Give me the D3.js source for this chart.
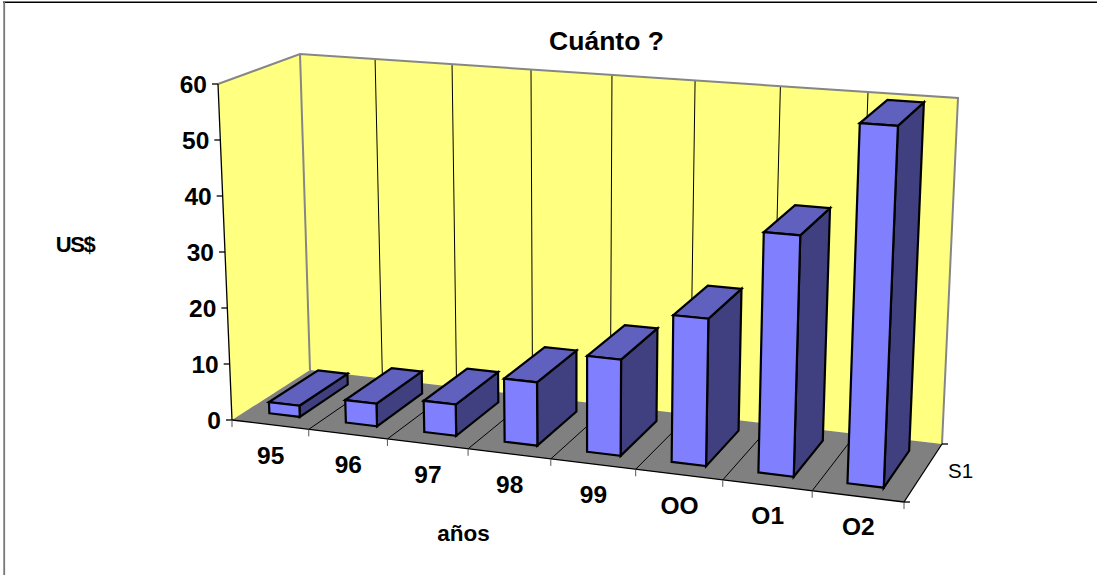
<!DOCTYPE html>
<html>
<head>
<meta charset="utf-8">
<script src="https://d3js.org/d3.v7.min.js"></script>
<style>
html,body{margin:0;padding:0;background:#fff;}
svg{display:block;}
text{font-family:"Liberation Sans",Arial,sans-serif;fill:#000;}
</style>
</head>
<body>
<svg id="chart" width="1097" height="575"></svg>
<script>
const categories = ["95","96","97","98","99","OO","O1","O2"];
const values = [2,4,5.5,11,16.5,25,40.5,60];
const valueTicks = [0,10,20,30,40,50,60];
const seriesName = "S1";

// Box corners on screen: floor quad and the quad at the top of the value range
const floorQuad=[[232,420],[904,502],[942,444],[310,370]];
const topQuad=[[218,84],[919.4,135],[958,98],[300,54]];

// Square-to-quad homography; quad order is (0,0),(1,0),(1,1),(0,1)
function quadMap([A,C,D,B]){
  const dx1=C[0]-D[0],dx2=B[0]-D[0],sx=A[0]-C[0]+D[0]-B[0];
  const dy1=C[1]-D[1],dy2=B[1]-D[1],sy=A[1]-C[1]+D[1]-B[1];
  const den=dx1*dy2-dx2*dy1;
  const g=(sx*dy2-dx2*sy)/den,h=(dx1*sy-sx*dy1)/den;
  const ax=C[0]-A[0]+g*C[0],bx=B[0]-A[0]+h*B[0];
  const ay=C[1]-A[1]+g*C[1],by=B[1]-A[1]+h*B[1];
  return (u,w)=>{
    const d=g*u+h*w+1;
    return [(ax*u+bx*w+A[0])/d,(ay*u+by*w+A[1])/d];
  };
}
const floorAt=quadMap(floorQuad), topAt=quadMap(topQuad);

// Categories foreshorten a little towards the far left of the box
const warp=(t,k)=>t/(1+k*(1-t));
const floorBend=0.049, topBend=0.002;

// Point in the box: t across the categories, v up the value range, w into depth
function project(t,v,w){
  const f=floorAt(warp(t,floorBend),w),p=topAt(warp(t,topBend),w);
  return [f[0]+(p[0]-f[0])*v,f[1]+(p[1]-f[1])*v];
}

const uScale=d3.scaleLinear().domain([0,categories.length]).range([0,1]);
const vScale=d3.scaleLinear().domain([0,60]).range([0,1]);
const barInset=0.3, depthFront=0.18, depthBack=0.82;

const svg=d3.select("#chart");
const poly=pts=>pts.map(p=>p.map(n=>n.toFixed(2)).join(",")).join(" ");

// Chart frame: only the top and left edges show
svg.append("line").attr("x1",3).attr("y1",2.2).attr("x2",1097).attr("y2",2.2)
  .attr("stroke","#000").attr("stroke-width",1.4);
svg.append("line").attr("x1",4.2).attr("y1",2).attr("x2",4.2).attr("y2",575)
  .attr("stroke","#777").attr("stroke-width",1.8);

// Walls and floor
svg.append("polygon").attr("points",poly([project(0,0,0),project(0,1,0),project(0,1,1),project(0,0,1)]))
  .attr("fill","#ffff80");
svg.append("polygon").attr("points",poly([project(0,0,1),project(0,1,1),project(1,1,1),project(1,0,1)]))
  .attr("fill","#ffff80");
svg.append("polygon").attr("points",poly([project(0,0,0),project(1,0,0),project(1,0,1),project(0,0,1)]))
  .attr("fill","#808080");

// Category dividers on the floor and the back wall
d3.range(1,categories.length).forEach(i=>{
  const u=uScale(i);
  svg.append("polyline").attr("points",poly([project(u,0,0),project(u,0,1),project(u,1,1)]))
    .attr("fill","none").attr("stroke","#000").attr("stroke-width",1);
});

// Wall outline
svg.append("polyline").attr("points",poly([project(0,1,0),project(0,1,1),project(1,1,1),project(1,0,1)]))
  .attr("fill","none").attr("stroke","#868686").attr("stroke-width",2);
svg.append("line").attr("x1",project(0,0,1)[0]).attr("y1",project(0,0,1)[1])
  .attr("x2",project(0,1,1)[0]).attr("y2",project(0,1,1)[1])
  .attr("stroke","#868686").attr("stroke-width",2);

// Axis lines and tick marks
const axisLine=(a,b)=>svg.append("line").attr("x1",a[0]).attr("y1",a[1]).attr("x2",b[0]).attr("y2",b[1])
  .attr("stroke","#000").attr("stroke-width",1.3);
axisLine(project(0,0,0),project(0,1,0));
axisLine(project(0,0,0),project(1,0,0));
axisLine(project(1,0,0),project(1,0,1));
valueTicks.forEach(t=>{
  const p=project(0,vScale(t),0);
  axisLine([p[0]-6,p[1]],p);
  svg.append("text").attr("x",p[0]-11).attr("y",p[1]+9).attr("text-anchor","end")
    .attr("font-size",24.5).attr("font-weight","bold").text(t);
});
d3.range(0,categories.length+1).forEach(i=>{
  const p=project(uScale(i),0,0);
  svg.append("line").attr("x1",p[0]).attr("y1",p[1]).attr("x2",p[0]).attr("y2",p[1]+7)
    .attr("stroke","#555").attr("stroke-width",1);
});
[project(1,0,0),project(1,0,1)].forEach(p=>axisLine(p,[p[0]+6,p[1]]));

// Bars: side, top, then front face
categories.forEach((c,i)=>{
  const u0=uScale(i+barInset),u1=uScale(i+1-barInset),v=vScale(values[i]);
  const g=svg.append("g").attr("stroke","#000").attr("stroke-width",2.2).attr("stroke-linejoin","miter");
  g.append("polygon").attr("points",poly([project(u1,0,depthFront),project(u1,v,depthFront),project(u1,v,depthBack),project(u1,0,depthBack)])).attr("fill","#404080");
  g.append("polygon").attr("points",poly([project(u0,v,depthFront),project(u1,v,depthFront),project(u1,v,depthBack),project(u0,v,depthBack)])).attr("fill","#6060bf");
  g.append("polygon").attr("points",poly([project(u0,0,depthFront),project(u1,0,depthFront),project(u1,v,depthFront),project(u0,v,depthFront)])).attr("fill","#8080ff");
  const lp=project(uScale(i+0.5),0,0);
  svg.append("text").attr("x",lp[0]+0.5).attr("y",lp[1]+39).attr("text-anchor","middle")
    .attr("font-size",24.5).attr("font-weight","bold").text(c);
});

// Series label on the depth axis
svg.append("text").attr("x",948).attr("y",478).attr("font-size",20.5).text(seriesName);

// Titles
svg.append("text").attr("x",606.5).attr("y",50).attr("text-anchor","middle").attr("font-size",26.5).attr("font-weight","bold").text("Cuánto ?");
svg.append("text").attr("x",75).attr("y",252).attr("text-anchor","middle").attr("font-size",22).attr("font-weight","bold").attr("letter-spacing",-1.5).text("US$");
svg.append("text").attr("x",463.5).attr("y",541).attr("text-anchor","middle").attr("font-size",22.5).attr("font-weight","bold").text("años");
</script>
</body>
</html>
